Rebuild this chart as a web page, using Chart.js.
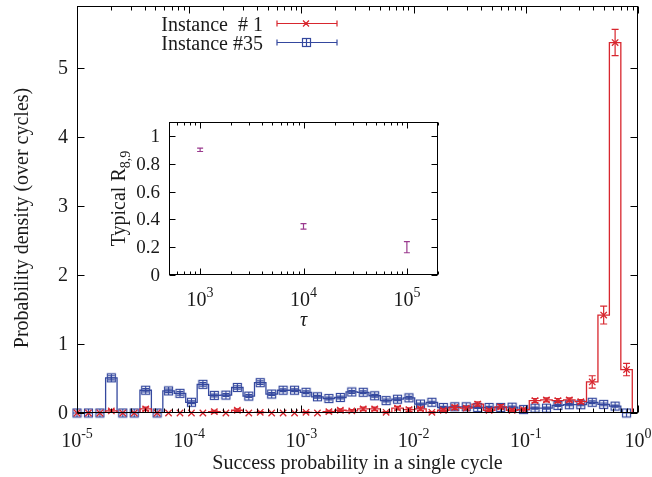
<!DOCTYPE html>
<html>
<head>
<meta charset="utf-8">
<script src="https://cdn.jsdelivr.net/npm/chart.js@4.4.1/dist/chart.umd.min.js"></script>
<style>
  html, body { margin: 0; padding: 0; background: #fff; }
  #wrap { position: relative; width: 652px; height: 477px; }
  #main { position: absolute; left: 0; top: 0; }
  #inset { position: absolute; left: 100px; top: 110px; }
</style>
</head>
<body>
<div id="wrap">
  <canvas id="main" width="652" height="477"></canvas>
  <canvas id="inset" width="345" height="225"></canvas>
</div>
<script>
// histogram bins: log10 of success probability (left edge of each bin)
const binExp = [
  -5.000, -4.898, -4.796, -4.694, -4.592, -4.490, -4.388, -4.286, -4.184, -4.082,
  -3.980, -3.878, -3.776, -3.673, -3.571, -3.469, -3.367, -3.265, -3.163, -3.061,
  -2.959, -2.857, -2.755, -2.653, -2.551, -2.449, -2.347, -2.245, -2.143, -2.041,
  -1.939, -1.837, -1.735, -1.633, -1.531, -1.429, -1.327, -1.224, -1.122, -1.020,
  -0.918, -0.816, -0.714, -0.612, -0.510, -0.408, -0.306, -0.204, -0.102
];
const instance1 = [
  0, 0, 0, 0.03, 0, 0, 0.06, 0, 0, 0, 0, 0, 0.02,
  0, 0.04, 0, 0.01, 0, 0, 0, 0.01, 0, 0.02, 0.04, 0.03,
  0.06, 0.06, 0.01, 0.07, 0.05, 0.06, 0.01, 0.04, 0.08, 0.07, 0.13, 0.04,
  0.09, 0.04, 0.05, 0.18, 0.19, 0.18, 0.19, 0.165, 0.45, 1.42, 5.37, 0.63
];
const instance1Err = [
  0, 0, 0, 0.02, 0, 0, 0.025, 0, 0, 0, 0, 0, 0.02,
  0, 0.02, 0, 0.01, 0, 0, 0, 0.01, 0, 0.02, 0.02, 0.02,
  0.025, 0.025, 0.01, 0.025, 0.025, 0.025, 0.01, 0.02, 0.03, 0.025, 0.03, 0.02,
  0.03, 0.02, 0.02, 0.03, 0.03, 0.03, 0.03, 0.03, 0.09, 0.13, 0.19, 0.09
];
const instance35 = [
  0, 0, 0, 0.51, 0, 0, 0.33, 0, 0.32, 0.285, 0.155, 0.415, 0.255,
  0.26, 0.37, 0.245, 0.44, 0.275, 0.33, 0.33, 0.30, 0.235, 0.21, 0.225, 0.305,
  0.30, 0.25, 0.18, 0.20, 0.22, 0.13, 0.155, 0.08, 0.09, 0.09, 0.08, 0.08,
  0.08, 0.085, 0.05, 0.07, 0.07, 0.11, 0.12, 0.12, 0.155, 0.125, 0.10, 0
];
const instance35Err = [
  0, 0, 0, 0.03, 0, 0, 0.025, 0, 0.025, 0.025, 0.02, 0.025, 0.02,
  0.02, 0.025, 0.02, 0.025, 0.02, 0.02, 0.02, 0.02, 0.02, 0.02, 0.02, 0.02,
  0.02, 0.02, 0.02, 0.02, 0.02, 0.015, 0.015, 0.015, 0.015, 0.015, 0.015, 0.015,
  0.015, 0.015, 0.01, 0.015, 0.015, 0.015, 0.015, 0.015, 0.02, 0.02, 0.015, 0
];
const xTickExp = [-5, -4, -3, -2, -1, 0];
const yTicks = [0, 1, 2, 3, 4, 5];

// inset
const tauValues = [1000, 10000, 100000];
const typicalR = [0.9, 0.35, 0.2];
const typicalRErr = [0.012, 0.02, 0.04];
const tauTickExp = [3, 4, 5];
const insetYTicks = [0, 0.2, 0.4, 0.6, 0.8, 1];
const insetYLabels = ['0', '0.2', '0.4', '0.6', '0.8', '1'];

const FONT = '"Liberation Serif", "Times New Roman", serif';
const INK = '#1a1a1a';
const RED = '#d8262e';
const BLUE = '#34489e';
const PURPLE = '#9a3a8e';

function boxPlus(color) {
  const c = document.createElement('canvas');
  c.width = 11; c.height = 11;
  const g = c.getContext('2d');
  g.strokeStyle = color; g.lineWidth = 1.2;
  g.strokeRect(1.5, 1.5, 8, 8);
  g.beginPath();
  g.moveTo(5.5, 1.5); g.lineTo(5.5, 9.5);
  g.moveTo(1.5, 5.5); g.lineTo(9.5, 5.5);
  g.stroke();
  return c;
}
const blueMarker = boxPlus(BLUE);

function stepPoints(vals) {
  const half = (binExp[1] - binExp[0]) / 2;
  const pts = [{ x: 10 ** (binExp[0] - half), y: 0 }];
  binExp.forEach((e, i) => pts.push({ x: 10 ** (e - half), y: vals[i] }));
  const last = binExp[binExp.length - 1] + half;
  pts.push({ x: 10 ** last, y: vals[vals.length - 1] });
  pts.push({ x: 10 ** last, y: 0 });
  return pts;
}

function markerPoints(vals) {
  return binExp.map((e, i) => ({ x: 10 ** e, y: vals[i] }));
}

function drawPower(ctx, x, baseY, exp, size) {
  const sup = String(exp);
  const small = Math.round(size * 0.7);
  ctx.font = `${size}px ${FONT}`;
  const w1 = ctx.measureText('10').width;
  ctx.font = `${small}px ${FONT}`;
  const w2 = ctx.measureText(sup).width;
  const left = x - (w1 + w2) / 2;
  ctx.textAlign = 'left';
  ctx.textBaseline = 'alphabetic';
  ctx.font = `${size}px ${FONT}`;
  ctx.fillText('10', left, baseY);
  ctx.font = `${small}px ${FONT}`;
  ctx.fillText(sup, left + w1, baseY - size * 0.45);
}

function drawFrame(ctx, a, xs, ys, xExps, yVals, major, minor) {
  ctx.save();
  ctx.strokeStyle = '#000';
  ctx.lineWidth = 1;
  const L = Math.round(a.left) + 0.5, R = Math.round(a.right) - 0.5;
  const T = Math.round(a.top) + 0.5, B = Math.round(a.bottom) - 0.5;
  ctx.strokeRect(L, T, R - L, B - T);
  ctx.beginPath();
  yVals.forEach(v => {
    const py = Math.round(ys.getPixelForValue(v)) + 0.5;
    ctx.moveTo(L, py); ctx.lineTo(L + major, py);
    ctx.moveTo(R, py); ctx.lineTo(R - major, py);
  });
  const minE = Math.floor(Math.log10(xs.min)), maxE = Math.ceil(Math.log10(xs.max));
  for (let e = minE; e <= maxE; e++) {
    for (let k = 1; k <= 9; k++) {
      const v = k * 10 ** e;
      if (v < xs.min * 0.999 || v > xs.max * 1.001) continue;
      const len = k === 1 && xExps.includes(e) ? major : minor;
      const px = Math.round(xs.getPixelForValue(v)) + 0.5;
      ctx.moveTo(px, B); ctx.lineTo(px, B - len);
      ctx.moveTo(px, T); ctx.lineTo(px, T + len);
    }
  }
  ctx.stroke();
  ctx.restore();
}

function drawErrorBars(chart, dsIndex, values, errs, color, cap) {
  const meta = chart.getDatasetMeta(dsIndex);
  const ys = chart.scales.y;
  const ctx = chart.ctx;
  ctx.save();
  ctx.strokeStyle = color;
  ctx.lineWidth = 1.2;
  ctx.beginPath();
  meta.data.forEach((pt, i) => {
    if (!errs[i]) return;
    const top = ys.getPixelForValue(values[i] + errs[i]);
    const bot = ys.getPixelForValue(values[i] - errs[i]);
    ctx.moveTo(pt.x, top); ctx.lineTo(pt.x, bot);
    ctx.moveTo(pt.x - cap, top); ctx.lineTo(pt.x + cap, top);
    ctx.moveTo(pt.x - cap, bot); ctx.lineTo(pt.x + cap, bot);
  });
  ctx.stroke();
  ctx.restore();
}

const mainDecor = {
  id: 'mainDecor',
  afterDatasetDraw(chart, args) {
    if (args.index === 1) drawErrorBars(chart, 1, instance1, instance1Err, RED, 3.5);
    if (args.index === 3) drawErrorBars(chart, 3, instance35, instance35Err, BLUE, 3.5);
  },
  afterDraw(chart) {
    const { ctx, chartArea: a, scales: { x, y } } = chart;
    drawFrame(ctx, a, x, y, xTickExp, yTicks, 7, 4);
    ctx.save();
    ctx.fillStyle = INK;
    // y tick labels
    ctx.font = `20px ${FONT}`;
    ctx.textAlign = 'right';
    ctx.textBaseline = 'middle';
    yTicks.forEach(v => ctx.fillText(String(v), 68, y.getPixelForValue(v) + 1));
    // x tick labels
    xTickExp.forEach(e => drawPower(ctx, x.getPixelForValue(10 ** e), 447, e, 20));
    // axis titles
    ctx.font = `20px ${FONT}`;
    ctx.textAlign = 'center';
    ctx.textBaseline = 'alphabetic';
    ctx.fillText('Success probability in a single cycle', (a.left + a.right) / 2, 469);
    ctx.save();
    ctx.translate(21, 218);
    ctx.rotate(-Math.PI / 2);
    ctx.fillText('Probability density (over cycles)', 0, 7);
    ctx.restore();
    // legend
    ctx.textAlign = 'right';
    ctx.fillText('Instance  # 1', 263, 31);
    ctx.fillText('Instance #35', 263, 50);
    const rows = [{ y: 23.5, c: RED }, { y: 42.5, c: BLUE }];
    rows.forEach((r, i) => {
      ctx.strokeStyle = r.c;
      ctx.lineWidth = 1.2;
      ctx.beginPath();
      ctx.moveTo(277, r.y); ctx.lineTo(337, r.y);
      ctx.moveTo(277, r.y - 3); ctx.lineTo(277, r.y + 3);
      ctx.moveTo(337, r.y - 3); ctx.lineTo(337, r.y + 3);
      if (i === 0) {
        ctx.moveTo(303, r.y - 3); ctx.lineTo(309, r.y + 3);
        ctx.moveTo(303, r.y + 3); ctx.lineTo(309, r.y - 3);
      }
      ctx.stroke();
      if (i === 1) ctx.drawImage(blueMarker, 301, r.y - 5.5);
    });
    ctx.restore();
  }
};

new Chart(document.getElementById('main'), {
  type: 'scatter',
  data: {
    datasets: [
      { data: stepPoints(instance1), showLine: true, stepped: 'before', borderColor: RED, borderWidth: 1.3, pointRadius: 0 },
      { data: markerPoints(instance1), showLine: false, pointStyle: 'crossRot', pointRadius: 4.5, borderColor: RED, borderWidth: 1.3, clip: false },
      { data: stepPoints(instance35), showLine: true, stepped: 'before', borderColor: BLUE, borderWidth: 1.3, pointRadius: 0 },
      { data: markerPoints(instance35), showLine: false, pointStyle: blueMarker, pointRadius: 5, clip: false }
    ]
  },
  options: {
    responsive: false,
    animation: false,
    devicePixelRatio: 1,
    layout: { padding: { left: 0, right: 14, top: 6, bottom: 0 } },
    plugins: { legend: { display: false }, tooltip: { enabled: false } },
    scales: {
      x: {
        type: 'logarithmic', min: 1e-5, max: 1,
        grid: { display: false }, border: { display: false }, ticks: { display: false },
        afterFit(s) { s.height = 64; }
      },
      y: {
        type: 'linear', min: 0, max: 5.9,
        grid: { display: false }, border: { display: false }, ticks: { display: false },
        afterFit(s) { s.width = 77; }
      }
    }
  },
  plugins: [mainDecor]
});

const insetDecor = {
  id: 'insetDecor',
  afterDatasetsDraw(chart) {
    drawErrorBars(chart, 0, typicalR, typicalRErr, PURPLE, 3);
  },
  afterDraw(chart) {
    const { ctx, chartArea: a, scales: { x, y } } = chart;
    drawFrame(ctx, a, x, y, tauTickExp, insetYTicks, 6, 3);
    ctx.save();
    ctx.fillStyle = INK;
    ctx.font = `19px ${FONT}`;
    ctx.textAlign = 'right';
    ctx.textBaseline = 'middle';
    insetYTicks.forEach((v, i) => ctx.fillText(insetYLabels[i], 60, y.getPixelForValue(v) + 1));
    tauTickExp.forEach(e => drawPower(ctx, x.getPixelForValue(10 ** e), 196, e, 20));
    ctx.font = `italic 20px ${FONT}`;
    ctx.textAlign = 'center';
    ctx.textBaseline = 'alphabetic';
    ctx.fillText('\u03C4', (a.left + a.right) / 2, 216);
    // rotated y title with subscript
    ctx.save();
    ctx.translate(18, (a.top + a.bottom) / 2);
    ctx.rotate(-Math.PI / 2);
    ctx.font = `20px ${FONT}`;
    const w1 = ctx.measureText('Typical R').width;
    ctx.font = `14px ${FONT}`;
    const w2 = ctx.measureText('8,9').width;
    const start = -(w1 + w2) / 2;
    ctx.textAlign = 'left';
    ctx.font = `20px ${FONT}`;
    ctx.fillText('Typical R', start, 7);
    ctx.font = `14px ${FONT}`;
    ctx.fillText('8,9', start + w1, 12);
    ctx.restore();
    ctx.restore();
  }
};

new Chart(document.getElementById('inset'), {
  type: 'scatter',
  data: {
    datasets: [
      { data: tauValues.map((t, i) => ({ x: t, y: typicalR[i] })), pointStyle: 'line', pointRadius: 0, borderColor: PURPLE }
    ]
  },
  options: {
    responsive: false,
    animation: false,
    devicePixelRatio: 1,
    layout: { padding: { left: 0, right: 7, top: 12, bottom: 0 } },
    plugins: { legend: { display: false }, tooltip: { enabled: false } },
    scales: {
      x: {
        type: 'logarithmic', min: 500, max: 200000,
        grid: { display: false }, border: { display: false }, ticks: { display: false },
        afterFit(s) { s.height = 60; }
      },
      y: {
        type: 'linear', min: 0, max: 1.1,
        grid: { display: false }, border: { display: false }, ticks: { display: false },
        afterFit(s) { s.width = 69; }
      }
    }
  },
  plugins: [insetDecor]
});
</script>
</body>
</html>
